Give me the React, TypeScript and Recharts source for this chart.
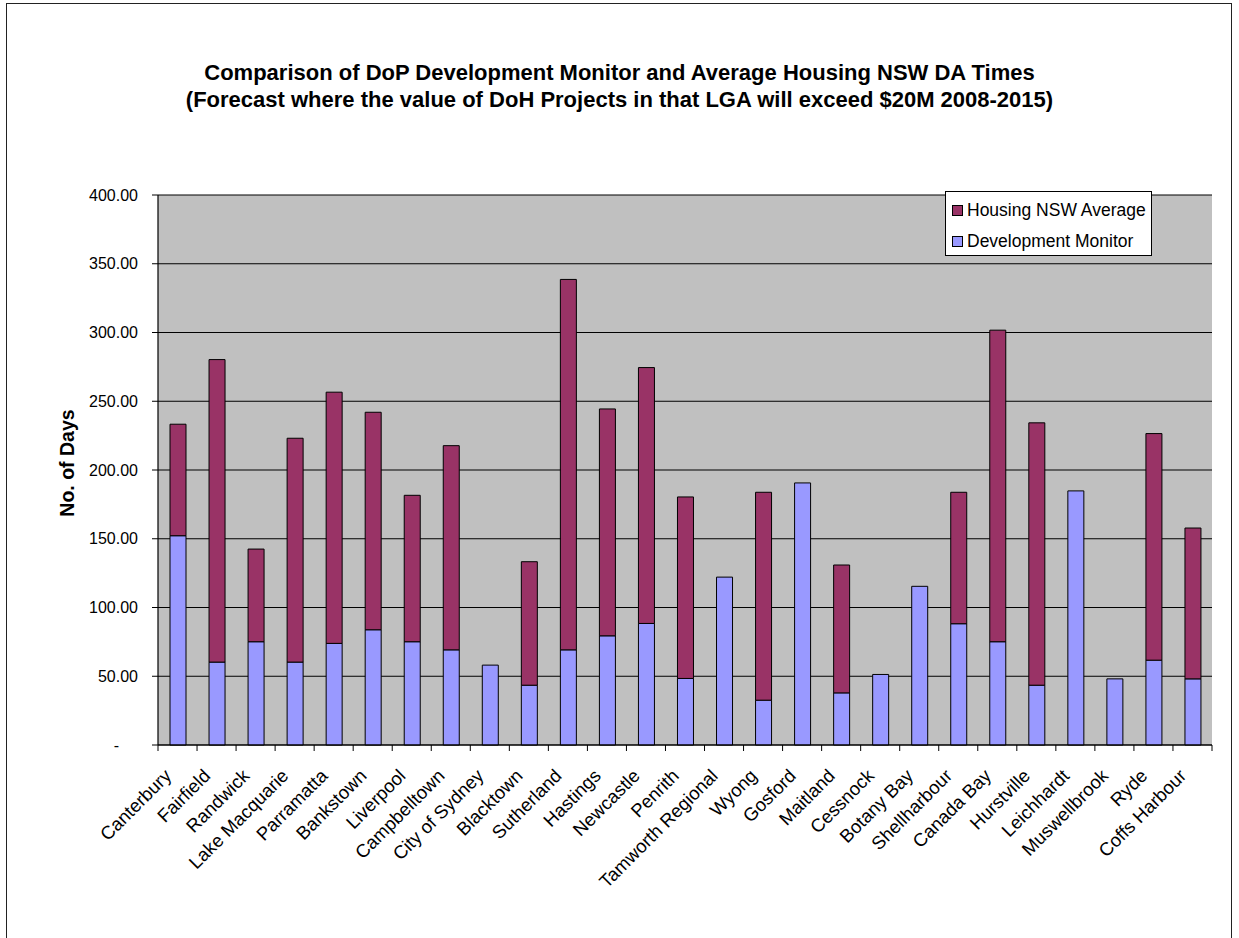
import React from 'react';
import { BarChart, Bar, XAxis, YAxis, CartesianGrid } from 'recharts';

const categories = [
  'Canterbury', 'Fairfield', 'Randwick', 'Lake Macquarie', 'Parramatta', 'Bankstown',
  'Liverpool', 'Campbelltown', 'City of Sydney', 'Blacktown', 'Sutherland', 'Hastings',
  'Newcastle', 'Penrith', 'Tamworth Regional', 'Wyong', 'Gosford', 'Maitland', 'Cessnock',
  'Botany Bay', 'Shellharbour', 'Canada Bay', 'Hurstville', 'Leichhardt', 'Muswellbrook',
  'Ryde', 'Coffs Harbour',
];

const developmentMonitor = [
  152.2, 60.3, 75.1, 60.3, 73.9, 83.8, 75.1, 69.2, 58.1, 43.5, 69.2, 79.4, 88.4, 48.4,
  122.1, 32.6, 190.6, 37.9, 51.3, 115.4, 88.2, 75.1, 43.5, 184.8, 48.1, 61.7, 48.1,
];

const housingNswAverage: (number | null)[] = [
  81.1, 220.0, 67.4, 162.8, 182.7, 158.2, 106.5, 148.5, null, 89.8, 269.4, 165.0, 186.1,
  132.0, null, 151.2, null, 93.0, null, null, 95.6, 226.6, 190.8, null, null, 164.8, 109.7,
];

const seriesNames = { dev: 'Development Monitor', housing: 'Housing NSW Average' };
const seriesColors = { dev: '#9999FF', housing: '#993366' };
const legendOrder: ('housing' | 'dev')[] = ['housing', 'dev'];

const yTicks = [0, 50, 100, 150, 200, 250, 300, 350, 400];

const titleLines = [
  'Comparison of DoP Development Monitor and Average Housing NSW DA Times',
  '(Forecast where the value of DoH Projects in that LGA will exceed $20M 2008-2015)',
];
const yAxisTitle = 'No. of Days';

const data = categories.map((name, i) => ({
  name,
  dev: developmentMonitor[i],
  housing: housingNswAverage[i],
}));

const FONT = '"Liberation Sans", Arial, sans-serif';

const YTick = (props: any) => {
  const { x, y, payload } = props;
  const v = payload.value as number;
  const isZero = v === 0;
  return (
    <text
      x={isZero ? x - 33 : x - 14}
      y={y}
      dy={5.5}
      textAnchor="end"
      fontSize={16}
      fontFamily={FONT}
      fill="#000"
    >
      {isZero ? '-' : v.toFixed(2)}
    </text>
  );
};

const XTick = (props: any) => {
  const { x, y, payload, index, visibleTicksCount, width } = props;
  const count = visibleTicksCount || categories.length;
  const band = (typeof width === 'number' && width > 0 ? width : 1054) / count;
  const left = x - band / 2;
  const right = x + band / 2;
  const lx = x - 5;
  const ly = y + 32;
  return (
    <g>
      <line x1={left} y1={y} x2={left} y2={y + 6} stroke="#000" strokeWidth={1} />
      {index === count - 1 && (
        <line x1={right} y1={y} x2={right} y2={y + 6} stroke="#000" strokeWidth={1} />
      )}
      <text
        x={lx}
        y={ly}
        textAnchor="end"
        fontSize={18.5}
        fontFamily={FONT}
        fill="#000"
        transform={`rotate(-45 ${lx} ${ly})`}
      >
        {payload.value}
      </text>
    </g>
  );
};

const LegendBox = () => (
  <div
    style={{
      position: 'absolute',
      left: 945,
      top: 191,
      width: 207,
      height: 65,
      boxSizing: 'border-box',
      border: '1.5px solid #000',
      background: '#fff',
      paddingLeft: 6,
      paddingTop: 5,
      fontFamily: FONT,
      fontSize: 17.5,
      color: '#000',
    }}
  >
    {legendOrder.map((k) => (
      <div key={k} style={{ display: 'flex', alignItems: 'center', height: 26, marginBottom: 5 }}>
        <span
          style={{
            display: 'inline-block',
            width: 9,
            height: 9,
            background: seriesColors[k],
            border: '1px solid #000',
            marginRight: 4,
            flexShrink: 0,
          }}
        />
        <span style={{ whiteSpace: 'nowrap' }}>{seriesNames[k]}</span>
      </div>
    ))}
  </div>
);

export default function App() {
  return (
    <div
      style={{
        position: 'absolute',
        left: 0,
        top: 0,
        width: 1239,
        height: 938,
        background: '#fff',
        overflow: 'hidden',
      }}
    >
      <div
        style={{
          position: 'absolute',
          left: 6,
          top: 3,
          width: 1226,
          height: 960,
          boxSizing: 'border-box',
          border: '1.5px solid #222',
        }}
      />
      <div
        style={{
          position: 'absolute',
          left: 0,
          top: 59,
          width: 1239,
          textAlign: 'center',
          fontFamily: FONT,
          fontWeight: 'bold',
          fontSize: 22,
          lineHeight: '27px',
          color: '#000',
        }}
      >
        {titleLines.map((t) => (
          <div key={t}>{t}</div>
        ))}
      </div>
      <div
        style={{
          position: 'absolute',
          left: 67,
          top: 463,
          transform: 'translate(-50%, -50%) rotate(-90deg)',
          fontFamily: FONT,
          fontWeight: 'bold',
          fontSize: 19.5,
          whiteSpace: 'nowrap',
          color: '#000',
        }}
      >
        {yAxisTitle}
      </div>
      <div style={{ position: 'absolute', left: 0, top: 0 }}>
        <BarChart
          width={1239}
          height={938}
          data={data}
          margin={{ top: 195, right: 27, bottom: 43, left: 0 }}
          barSize={16}
        >
          <CartesianGrid
            vertical={false}
            stroke="#000"
            strokeWidth={1.2}
            fill="#C0C0C0"
            fillOpacity={1}
          />
          <XAxis
            dataKey="name"
            interval={0}
            height={150}
            tickSize={0}
            tickMargin={0}
            tickLine={false}
            axisLine={{ stroke: '#000', strokeWidth: 1.2 }}
            tick={<XTick />}
          />
          <XAxis
            xAxisId="top"
            dataKey="name"
            orientation="top"
            height={0}
            tick={false}
            tickLine={false}
            axisLine={{ stroke: '#707070', strokeWidth: 2 }}
          />
          <YAxis
            domain={[0, 400]}
            ticks={yTicks}
            width={158}
            tickSize={6}
            tickMargin={0}
            interval={0}
            tickLine={{ stroke: '#000' }}
            axisLine={{ stroke: '#000', strokeWidth: 1.2 }}
            tick={<YTick />}
          />
          <YAxis
            yAxisId="right"
            orientation="right"
            domain={[0, 400]}
            width={0}
            tick={false}
            tickLine={false}
            axisLine={{ stroke: '#909090', strokeWidth: 1.5 }}
          />
          <Bar
            dataKey="dev"
            name={seriesNames.dev}
            stackId="a"
            fill={seriesColors.dev}
            stroke="#000"
            strokeWidth={1}
            isAnimationActive={false}
          />
          <Bar
            dataKey="housing"
            name={seriesNames.housing}
            stackId="a"
            fill={seriesColors.housing}
            stroke="#000"
            strokeWidth={1}
            isAnimationActive={false}
          />
        </BarChart>
      </div>
      <LegendBox />
    </div>
  );
}
